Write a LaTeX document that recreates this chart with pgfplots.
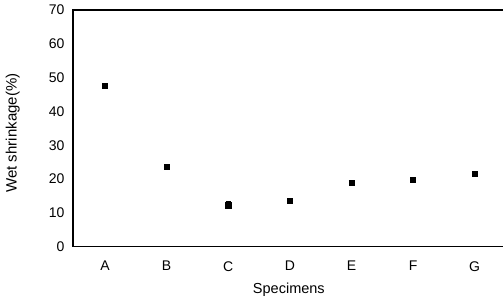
\documentclass[border=0pt]{standalone}
\usepackage{pgfplots}
\pgfplotsset{compat=1.18}
\usepackage{fontspec}
\setmainfont{Liberation Sans}
\begin{document}
\begin{tikzpicture}
\begin{axis}[
  scale only axis,
  width=430pt, height=236.7pt,
  at={(0,0)}, anchor=south west,
  xmin=-0.52, xmax=6.46,
  ymin=0, ymax=70,
  ytick={0,10,...,70},
  xtick={0,...,6},
  xticklabels={A,B,C,D,E,F,G},
  major tick length=0pt,
  axis line style={draw=none},
  tick label style={font=\fontsize{14}{16}\selectfont},
  /pgf/number format/assume math mode=true,
  yticklabel style={xshift=-5pt},
  xticklabel style={yshift=-11pt},
  xlabel={Specimens},
  ylabel={Wet shrinkage(\%)},
  xlabel style={at={(axis description cs:0.502,-0.18)}, anchor=center, font=\fontsize{14.5}{16}\selectfont},
  ylabel style={at={(axis description cs:-0.140,0.48)}, anchor=center, font=\fontsize{15}{17}\selectfont},
  clip=false,
]
\draw[line width=1.3pt] (rel axis cs:1,1) -- (rel axis cs:0,1) -- (rel axis cs:0,0) -- (rel axis cs:1,0);
\addplot[only marks, mark=square*, mark size=2.6pt, black,
  error bars/.cd, y dir=both, y explicit,
  error bar style={line width=0.8pt}, error mark options={mark size=2.6pt, rotate=90, line width=0.8pt}]
  table[x=x, y=y, y error=e] {
x y e
0 47.5 0.4
1 23.6 0.5
2 12.3 1.0
3 13.5 0.8
4 19.0 0.5
5 19.7 0.4
6 21.7 0.5
};
\end{axis}
\pgfresetboundingbox
\path (-73pt,-51.3pt) rectangle (430pt,246.7pt);
\end{tikzpicture}
\end{document}
